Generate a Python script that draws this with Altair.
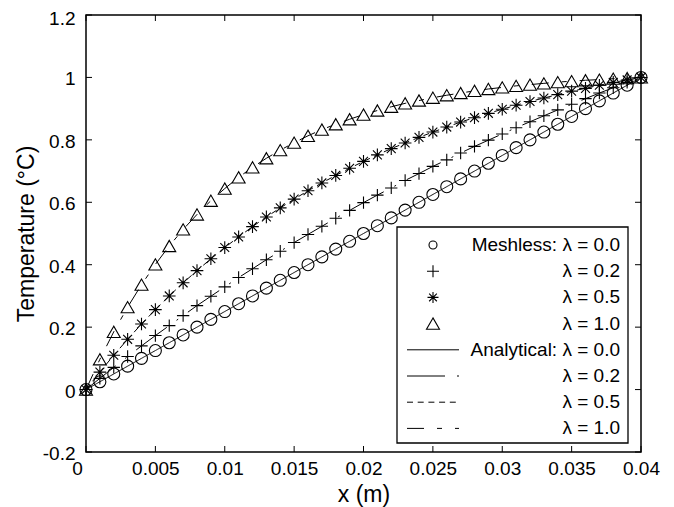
import altair as alt
import pandas as pd

# ---- data ----
x_m = [0.000, 0.001, 0.002, 0.003, 0.004, 0.005, 0.006, 0.007, 0.008, 0.009,
       0.010, 0.011, 0.012, 0.013, 0.014, 0.015, 0.016, 0.017, 0.018, 0.019,
       0.020, 0.021, 0.022, 0.023, 0.024, 0.025, 0.026, 0.027, 0.028, 0.029,
       0.030, 0.031, 0.032, 0.033, 0.034, 0.035, 0.036, 0.037, 0.038, 0.039,
       0.040]
temp_l00 = [0, 0.025, 0.05, 0.075, 0.1, 0.125, 0.15, 0.175, 0.2, 0.225, 0.25,
            0.275, 0.3, 0.325, 0.35, 0.375, 0.4, 0.425, 0.45, 0.475, 0.5, 0.525,
            0.55, 0.575, 0.6, 0.625, 0.65, 0.675, 0.7, 0.725, 0.75, 0.775, 0.8,
            0.825, 0.85, 0.875, 0.9, 0.925, 0.95, 0.975, 1.0]
temp_l02 = [0, 0.036, 0.071, 0.106, 0.140, 0.173, 0.205, 0.237, 0.269, 0.299,
            0.329, 0.359, 0.387, 0.416, 0.443, 0.471, 0.497, 0.523, 0.549, 0.574,
            0.599, 0.623, 0.646, 0.670, 0.692, 0.715, 0.736, 0.758, 0.779, 0.799,
            0.819, 0.839, 0.858, 0.877, 0.896, 0.914, 0.932, 0.950, 0.967, 0.984,
            1.0]
temp_l05 = [0, 0.056, 0.110, 0.161, 0.210, 0.256, 0.300, 0.342, 0.381, 0.419,
            0.455, 0.489, 0.522, 0.553, 0.582, 0.610, 0.637, 0.662, 0.686, 0.709,
            0.731, 0.752, 0.772, 0.790, 0.808, 0.825, 0.841, 0.857, 0.871, 0.885,
            0.898, 0.911, 0.923, 0.934, 0.945, 0.956, 0.965, 0.975, 0.984, 0.992,
            1.0]
temp_l10 = [0, 0.097, 0.185, 0.264, 0.336, 0.401, 0.460, 0.513, 0.561, 0.605,
            0.644, 0.680, 0.712, 0.741, 0.767, 0.791, 0.813, 0.833, 0.850, 0.866,
            0.881, 0.894, 0.906, 0.917, 0.926, 0.935, 0.943, 0.950, 0.957, 0.963,
            0.968, 0.973, 0.977, 0.981, 0.985, 0.988, 0.991, 0.993, 0.996, 0.998,
            1.0]
series_names = ["λ = 0.0", "λ = 0.2", "λ = 0.5", "λ = 1.0"]
x_ticks = [0, 0.005, 0.01, 0.015, 0.02, 0.025, 0.03, 0.035, 0.04]
y_ticks = [-0.2, 0, 0.2, 0.4, 0.6, 0.8, 1, 1.2]
legend_labels = ["Meshless: λ = 0.0", "λ = 0.2", "λ = 0.5", "λ = 1.0",
                 "Analytical: λ = 0.0", "λ = 0.2", "λ = 0.5", "λ = 1.0"]

# ---- styles ----
FONT = "Liberation Sans"
W, H = 555, 437
PLUS = "M-1,0L1,0M0,-1L0,1"
STAR = "M-1,0L1,0M0,-1L0,1M-0.7,-0.7L0.7,0.7M-0.7,0.7L0.7,-0.7"
SHAPES = ["circle", PLUS, STAR, "triangle-up"]
SIZES = [144, 169, 110, 169]
LEG_SIZES = [64, 144, 121, 169]
DASHES = [[1, 0], [38, 12, 2, 12], [6, 4.7], [17, 13, 5, 13]]

rows = []
for name, vals in zip(series_names, [temp_l00, temp_l02, temp_l05, temp_l10]):
    for xv, tv in zip(x_m, vals):
        rows.append({"x": xv, "T": tv, "series": name})
df = pd.DataFrame(rows)

xscale = alt.Scale(domain=[0, 0.04], nice=False, zero=False)
yscale = alt.Scale(domain=[-0.2, 1.2], nice=False, zero=False)

x_axis = alt.Axis(values=x_ticks, format="~g", ticks=False, domain=False, grid=False,
                  labelFontSize=19, labelFont=FONT, labelColor="black", labelPadding=7,
                  labelFlush=False, labelOverlap=False,
                  labelOffset={"condition": {"test": "datum.value == 0", "value": -9}, "value": 0},
                  title="x (m)", titleFont=FONT, titleFontSize=23, titleFontWeight="normal",
                  titleColor="black", titleY=49, titleX=W / 2, titleBaseline="alphabetic")
y_axis = alt.Axis(values=y_ticks, format="~g", ticks=False, domain=False, grid=False,
                  labelFontSize=19, labelFont=FONT, labelColor="black", labelPadding=11,
                  labelOverlap=False,
                  labelOffset={"condition": {"test": "datum.value > 1.1", "value": 3}, "value": 1.5},
                  labelExpr="replace(datum.label, '\u2212', '-')",
                  title="Temperature (°C)", titleFont=FONT, titleFontSize=23,
                  titleFontWeight="normal", titleColor="black", titleX=-53, titleY=H / 2,
                  titleAngle=-90, titleBaseline="alphabetic")

X = lambda f: alt.X(f, scale=xscale, axis=x_axis)
Y = lambda f: alt.Y(f, scale=yscale, axis=y_axis)

lines = alt.Chart(df).mark_line(color="black", strokeWidth=1).encode(
    x=X("x:Q"), y=Y("T:Q"),
    strokeDash=alt.StrokeDash("series:N", scale=alt.Scale(domain=series_names, range=DASHES), legend=None),
)
points = alt.Chart(df).mark_point(filled=False, color="black", strokeWidth=1.1, opacity=1).encode(
    x=X("x:Q"), y=Y("T:Q"),
    shape=alt.Shape("series:N", scale=alt.Scale(domain=series_names, range=SHAPES), legend=None),
    size=alt.Size("series:N", scale=alt.Scale(domain=series_names, range=SIZES), legend=None),
)

xt = pd.DataFrame({"t": x_ticks})
yt = pd.DataFrame({"t": y_ticks})
tick_layers = [
    alt.Chart(xt).mark_rule(color="black", strokeWidth=1).encode(
        x=X("t:Q"), y=alt.value(H), y2=alt.value(H - 6)),
    alt.Chart(xt).mark_rule(color="black", strokeWidth=1).encode(
        x=X("t:Q"), y=alt.value(0), y2=alt.value(6)),
    alt.Chart(yt).mark_rule(color="black", strokeWidth=1).encode(
        y=Y("t:Q"), x=alt.value(0), x2=alt.value(6)),
    alt.Chart(yt).mark_rule(color="black", strokeWidth=1).encode(
        y=Y("t:Q"), x=alt.value(W), x2=alt.value(W - 6)),
]

# ---- legend (drawn inside the plot, lower right) ----
one = pd.DataFrame({"a": [0]})
legend_layers = [
    alt.Chart(one).mark_rect(fill="white", stroke="black", strokeWidth=1.3).encode(
        x=alt.value(311), x2=alt.value(542), y=alt.value(212), y2=alt.value(428))
]
ROW0, DY = 230, 26.2
for k, lab in enumerate(legend_labels):
    yk = ROW0 + DY * k
    if k < 4:
        legend_layers.append(
            alt.Chart(one).mark_point(shape=SHAPES[k], size=LEG_SIZES[k], filled=False,
                                      color="black", strokeWidth=1.1, opacity=1).encode(
                x=alt.value(347), y=alt.value(yk)))
    else:
        legend_layers.append(
            alt.Chart(one).mark_rule(color="black", strokeWidth=1, strokeDash=DASHES[k - 4]).encode(
                x=alt.value(321), x2=alt.value(373), y=alt.value(yk)))
    legend_layers.append(
        alt.Chart(pd.DataFrame({"label": [lab]})).mark_text(
            align="right", baseline="middle", font=FONT, fontSize=19, color="black").encode(
            x=alt.value(534), y=alt.value(yk), text="label:N"))

chart = alt.layer(lines, points, *tick_layers, *legend_layers).properties(
    width=W, height=H,
    autosize=alt.AutoSizeParams(type="none"),
    padding={"left": 78, "top": 7, "right": 25, "bottom": 60},
).configure(font=FONT).configure_view(stroke="black", strokeWidth=1.5)

chart.save("out.html", embed_options={"renderer": "svg", "actions": False})
